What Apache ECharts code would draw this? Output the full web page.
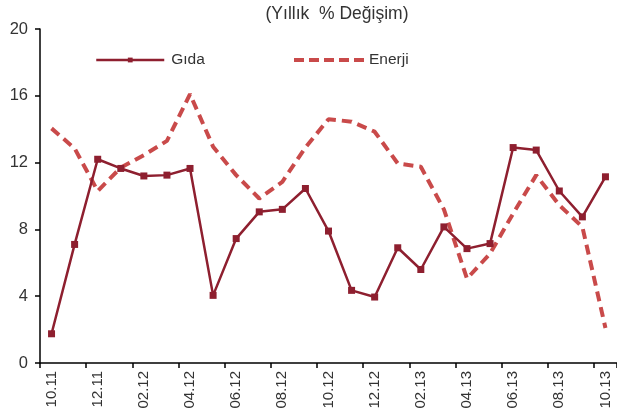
<!DOCTYPE html>
<html>
<head>
<meta charset="utf-8">
<script src="https://cdn.jsdelivr.net/npm/echarts@6/dist/echarts.min.js"></script>
<style>html,body{margin:0;padding:0;background:#fff;}#c{width:617px;height:416px;}</style>
</head>
<body>
<div id="c"></div>
<script>
var categories = ['10.11','11.11','12.11','01.12','02.12','03.12','04.12','05.12','06.12','07.12','08.12','09.12','10.12','11.12','12.12','01.13','02.13','03.13','04.13','05.13','06.13','07.13','08.13','09.13','10.13'];
var gida = [1.75,7.1,12.2,11.65,11.2,11.25,11.65,4.05,7.45,9.05,9.2,10.45,7.9,4.35,3.95,6.9,5.6,8.15,6.85,7.15,12.9,12.75,10.3,8.75,11.15];
var enerji = [14.05,12.85,10.3,11.7,12.45,13.3,16.1,12.95,11.25,9.85,10.85,12.9,14.6,14.45,13.85,11.95,11.75,9.2,5.05,6.55,8.95,11.25,9.45,8.15,2.1];
var yTicks = {min:0, max:20, interval:4};

var chart = echarts.init(document.getElementById('c'));
chart.setOption({
  animation:false,
  title:{text:'(Yıllık  % Değişim)', left:337, textAlign:'center', top:4, padding:0,
    textStyle:{fontFamily:'Liberation Sans', fontSize:17.5, fontWeight:'normal', color:'#333', lineHeight:20}},
  legend:[
    {data:['Gıda'], left:95, top:52, padding:0, itemWidth:68, itemHeight:6, itemGap:0,
      lineStyle:{width:2.5, color:'#8E1F2F'},
      textStyle:{fontFamily:'Liberation Sans', fontSize:15.5, color:'#333', lineHeight:16, padding:[0,0,0,2]}},
    {data:['Enerji'], left:292, top:52, padding:0, itemWidth:70, itemHeight:6,
      itemStyle:{opacity:0},
      lineStyle:{width:4, color:'#C94A4A', type:[10,5]},
      textStyle:{fontFamily:'Liberation Sans', fontSize:15.5, color:'#333', lineHeight:16, padding:[0,0,0,0]}}
  ],
  grid:{left:40, right:-3, top:29, bottom:53, containLabel:false},
  xAxis:{type:'category', data:categories, boundaryGap:true,
    axisLine:{lineStyle:{color:'#000', width:1.5}},
    axisTick:{show:true, interval:1, length:5, lineStyle:{color:'#000', width:1.5}},
    axisLabel:{interval:1, rotate:90, margin:8, fontFamily:'Liberation Sans', fontSize:15, color:'#333'}},
  yAxis:{type:'value', min:yTicks.min, max:yTicks.max, interval:yTicks.interval,
    axisLine:{show:true, lineStyle:{color:'#000', width:1.5}},
    axisTick:{show:true, length:5, lineStyle:{color:'#000', width:1.5}},
    splitLine:{show:false},
    axisLabel:{margin:12, fontFamily:'Liberation Sans', fontSize:16.5, color:'#333'}},
  series:[
    {name:'Gıda', type:'line', data:gida, symbol:'rect', symbolSize:7,
      itemStyle:{color:'#8E1F2F'}, lineStyle:{color:'#8E1F2F', width:2.5}, z:3},
    {name:'Enerji', type:'line', data:enerji, symbol:'none', showSymbol:false,
      itemStyle:{color:'#C94A4A'}, lineStyle:{color:'#C94A4A', width:4, type:[10,6]}, z:2}
  ]
});
</script>
</body>
</html>
